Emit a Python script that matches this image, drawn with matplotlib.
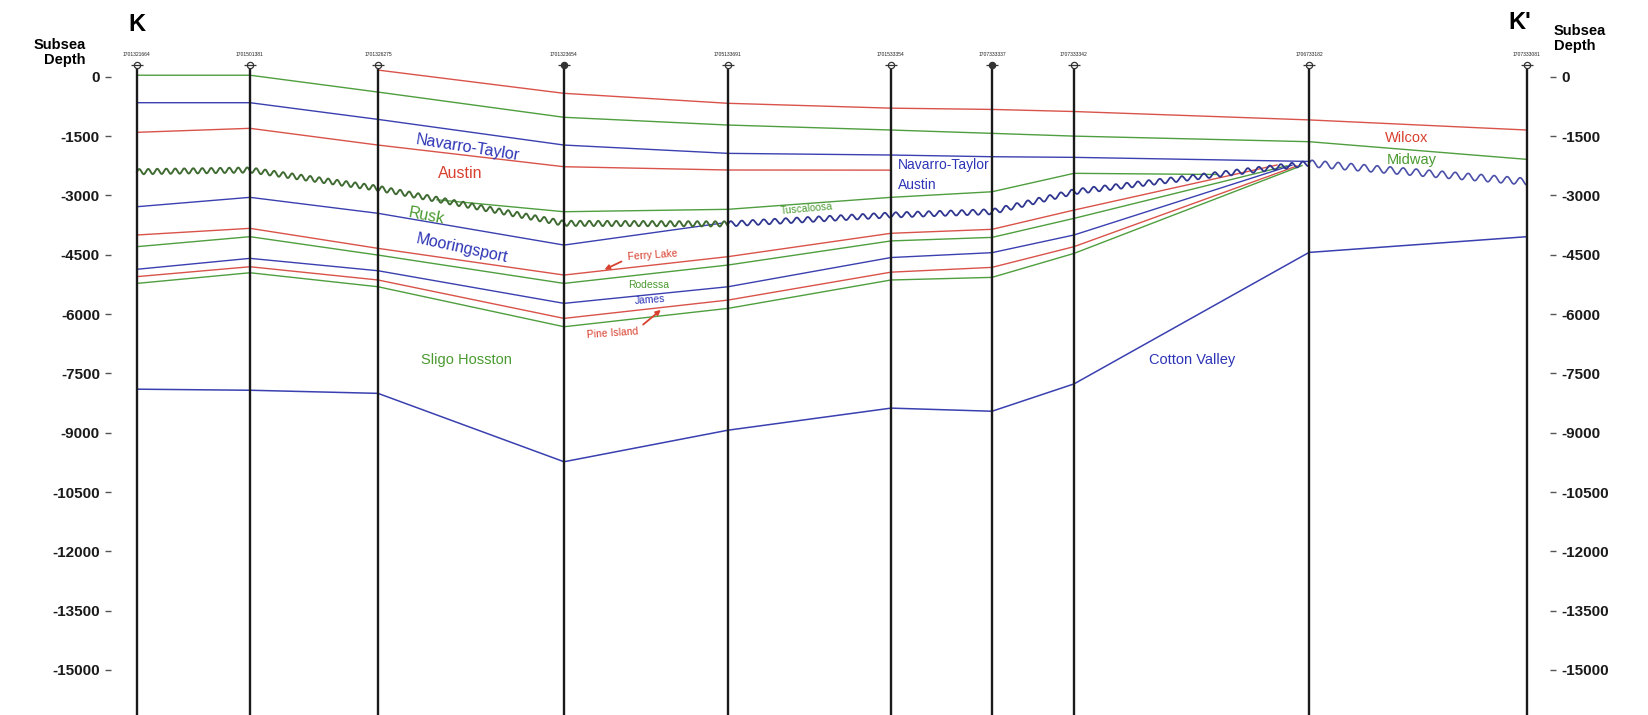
import numpy as np
import matplotlib.pyplot as plt

plt.rcParams['font.family'] = ['Liberation Sans', 'DejaVu Sans']

# wells along the section (distance units along K-K')
wells = ["1701321664", "1701501381", "1701326275", "1701323654", "1705133691",
         "1701533354", "1707333337", "1707333342", "1706733182", "1707333081"]
well_x = [0, 113, 241, 427, 591, 754, 855, 937, 1172, 1390]
dry_holes = [3, 6]

# formation tops, subsea depth (ft)
wilcox_x = well_x[2:]
wilcox_d = [170, -418, -670, -793, -825, -878, -1090, -1346]
midway_d = [40, 40, -386, -1024, -1220, -1346, -1430, -1500, -1641, -2088]
navarro_x = well_x[:9]
navarro_d = [-655, -655, -1077, -1726, -1936, -1978, -2021, -2037, -2140]
austin_x = well_x[:6]
austin_d = [-1404, -1303, -1726, -2274, -2357, -2360]
tusc_x = [300, 427, 591, 754, 855, 937, 1080]
tusc_d = [-3110, -3412, -3351, -3048, -2907, -2441, -2470]
unconf_d = [-2400, -2357, -2819, -3705, -3720, -3495, -3412, -2907, -2189, -2652]
moor_x = [0, 113, 241, 427, 585]
moor_d = [-3285, -3048, -3452, -4255, -3700]
lower_x = well_x[:8]
ferry_d = [-4000, -3832, -4338, -5013, -4548, -3957, -3857, -3370]
rodessa_d = [-4295, -4043, -4508, -5224, -4760, -4150, -4061, -3580]
james_d = [-4867, -4591, -4904, -5729, -5309, -4570, -4447, -4000]
pine_d = [-5053, -4803, -5138, -6109, -5646, -4940, -4819, -4295]
sligo_d = [-5224, -4955, -5309, -6320, -5856, -5138, -5072, -4466]
# where the lower Cretaceous tops pinch out against the unconformity
pinch_x = [1140, 1150, 1155, 1160, 1165]
pinch_d = [-2230, -2250, -2235, -2255, -2245]
cotton_d = [-7899, -7926, -8005, -9734, -8936, -8378, -8457, -7766, -4441, -4043]

depth_ticks = list(range(0, -15001, -1500))

RED = '#d9534a'
GREEN = '#4f9e3f'
BLUE = '#3a40b0'
TRED = '#d8402f'
TGREEN = '#4a9a30'
TBLUE = '#2d34b5'


def wavy(x, d, amp=65, period=9.0, n=3000):
    xs = np.linspace(x[0], x[-1], n)
    ds = np.interp(xs, x, d)
    return xs, ds + amp * np.sin(2 * np.pi * (xs - x[0]) / period)


fig = plt.figure(figsize=(16.49, 7.15), dpi=100)
ax = fig.add_axes([111 / 1649, 0, (1550 - 111) / 1649, 1])
ax.set_xlim(-26, 1413)
ax.set_ylim(-16138, 1942)

# wells
for i, (x, name) in enumerate(zip(well_x, wells)):
    ax.plot([x, x], [230, -16138], color='#1a1a1a', lw=1.7, zorder=5)
    ax.plot(x, 298, marker='o', ms=4.5, mew=0.9, mec='#333333',
            mfc='#333333' if i in dry_holes else 'white', zorder=6)
    ax.plot(x, 298, marker='_', ms=9, mew=0.9, color='#333333', zorder=6)
    ax.text(x, 560, name, fontsize=3.6, ha='center', va='center', color='#222222')

lw = 1.0
ax.plot(wilcox_x, wilcox_d, color=RED, lw=lw)
ax.plot(well_x, midway_d, color=GREEN, lw=lw)
ax.plot(navarro_x, navarro_d, color=BLUE, lw=lw)
ax.plot(austin_x, austin_d, color=RED, lw=lw)
ax.plot(tusc_x, tusc_d, color=GREEN, lw=lw)
ax.plot(moor_x, moor_d, color=BLUE, lw=lw)
for d, px, pd, c in zip([ferry_d, rodessa_d, james_d, pine_d, sligo_d],
                        pinch_x, pinch_d, [RED, GREEN, BLUE, RED, GREEN]):
    ax.plot(lower_x + [px], d + [pd], color=c, lw=lw)
ax.plot(well_x, cotton_d, color=BLUE, lw=1.1)

# unconformity
wx, wd = wavy(well_x[:5], unconf_d[:5])
ax.plot(wx, wd, color='#3f6b32', lw=1.4)
wx, wd = wavy(well_x[4:9], unconf_d[4:9], period=11.0)
ax.plot(wx, wd, color='#2f3690', lw=1.3)
wx, wd = wavy(well_x[8:], unconf_d[8:], amp=85, period=13.0)
ax.plot(wx, wd, color='#4a4fa8', lw=1.2)

# formation names
ax.text(331, -1790, 'Navarro-Taylor', color=TBLUE, fontsize=11.5, rotation=-9, ha='center', va='center')
ax.text(323, -2450, 'Austin', color=TRED, fontsize=11.5, ha='center', va='center')
ax.text(290, -3520, 'Rusk', color=TGREEN, fontsize=11.5, rotation=-11, ha='center', va='center')
ax.text(325, -4330, 'Mooringsport', color=TBLUE, fontsize=11.5, rotation=-12, ha='center', va='center')
ax.text(329, -7160, 'Sligo Hosston', color=TGREEN, fontsize=10.5, ha='center', va='center')
ax.text(516, -4510, 'Ferry Lake', color=TRED, fontsize=7.5, rotation=4, ha='center', va='center')
ax.text(512, -5270, 'Rodessa', color=TGREEN, fontsize=7.5, ha='center', va='center')
ax.text(513, -5650, 'James', color=TBLUE, fontsize=7.5, rotation=4, ha='center', va='center')
ax.text(475, -6490, 'Pine Island', color=TRED, fontsize=7.5, rotation=4, ha='center', va='center')
ax.text(670, -3330, 'Tuscaloosa', color=TGREEN, fontsize=7.5, rotation=5, ha='center', va='center')
ax.text(761, -2232, 'Navarro-Taylor', color=TBLUE, fontsize=10, ha='left', va='center')
ax.text(761, -2737, 'Austin', color=TBLUE, fontsize=10, ha='left', va='center')
ax.text(1055, -7163, 'Cotton Valley', color=TBLUE, fontsize=10.5, ha='center', va='center')
ax.text(1270, -1556, 'Wilcox', color=TRED, fontsize=10.5, ha='center', va='center')
ax.text(1275, -2104, 'Midway', color=TGREEN, fontsize=10.5, ha='center', va='center')

arrow = dict(arrowstyle='-|>', color=TRED, lw=1.3, mutation_scale=7)
ax.annotate('', xy=(465, -4905), xytext=(487, -4640), arrowprops=arrow)
ax.annotate('', xy=(526, -5850), xytext=(504, -6310), arrowprops=arrow)

# section ends
ax.text(0, 1330, 'K', fontsize=17, fontweight='bold', ha='center', va='center')
ax.text(1383, 1380, "K'", fontsize=17, fontweight='bold', ha='center', va='center')
fig.text(86 / 1649, 1 - 45 / 715, 'Subsea', fontsize=10.5, fontweight='bold', ha='right', va='center')
fig.text(86 / 1649, 1 - 60 / 715, 'Depth', fontsize=10.5, fontweight='bold', ha='right', va='center')
fig.text(1554 / 1649, 1 - 31 / 715, 'Subsea', fontsize=10.5, fontweight='bold', ha='left', va='center')
fig.text(1554 / 1649, 1 - 46 / 715, 'Depth', fontsize=10.5, fontweight='bold', ha='left', va='center')

ax.set_yticks(depth_ticks)
ax.set_yticklabels([str(t) for t in depth_ticks], fontweight='bold')
ax.set_xticks([])
ax.tick_params(axis='y', left=True, right=True, labelleft=True, labelright=True,
               direction='out', length=4.5, width=1.0, color='#555555',
               pad=3.5, labelsize=11, labelcolor='#1a1a1a')
for s in ax.spines.values():
    s.set_visible(False)

fig.savefig('out.png', dpi=100)
